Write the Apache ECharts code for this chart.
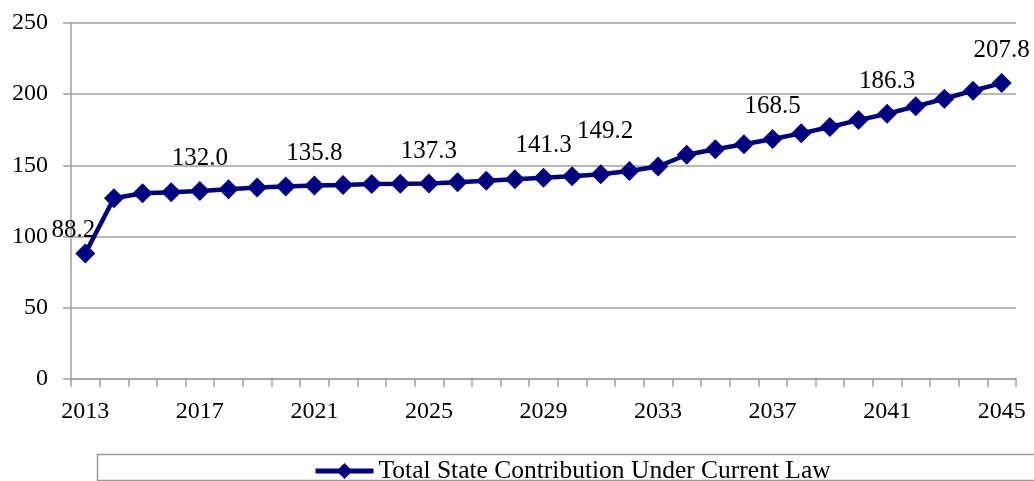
<!DOCTYPE html>
<html>
<head>
<meta charset="utf-8">
<script src="https://cdn.jsdelivr.net/npm/echarts@6/dist/echarts.min.js"></script>
<style>
html,body{margin:0;padding:0;background:#fff;}
#chart{width:1034px;height:481px;}
</style>
</head>
<body>
<div id="chart"></div>
<script>
var years = ['2013','2014','2015','2016','2017','2018','2019','2020','2021','2022','2023','2024','2025','2026','2027','2028','2029','2030','2031','2032','2033','2034','2035','2036','2037','2038','2039','2040','2041','2042','2043','2044','2045'];
var values = [88.2,126.9,130.4,131.1,132.0,133.3,134.5,135.2,135.8,136.3,137.0,137.1,137.3,138.2,139.3,140.2,141.3,142.4,143.8,146.0,149.2,157.5,161.3,164.8,168.5,172.5,177.0,181.8,186.3,191.5,196.8,202.5,207.8];
var labeledYears = ['2013','2017','2021','2025','2029','2033','2037','2041','2045'];
var seriesName = 'Total State Contribution Under Current Law';
var yTicks = [0,50,100,150,200,250];

var FONT = "'Liberation Serif','Times New Roman',serif";
var labelOffsets = {'2013':[-12,10],'2033':[-53,-3]};

var seriesData = values.map(function(v,i){
  var y = years[i];
  var item = {value:v};
  if (labeledYears.indexOf(y) >= 0) {
    item.label = {show:true, position:'top', distance:10, offset: labelOffsets[y] || [0,0],
      formatter: function(p){ return p.value.toFixed(1); },
      fontFamily:FONT, fontSize:25, color:'#000'};
  }
  return item;
});

var chart = echarts.init(document.getElementById('chart'));
chart.setOption({
  animation:false,
  backgroundColor:'#fff',
  grid:{left:71, right:18, top:23, bottom:102, containLabel:false},
  graphic:[{type:'rect', shape:{x:97.5,y:454.5,width:960,height:26}, style:{fill:'none', stroke:'#9a9a9a', lineWidth:1.5}, z:-1}],
  legend:{
    data:[seriesName], top:453, left:308,
    itemWidth:58, itemHeight:20, itemGap:2,
    lineStyle:{width:5},
    textStyle:{fontFamily:FONT, fontSize:25.5, color:'#000'}
  },
  xAxis:{
    type:'category', data:years, boundaryGap:true,
    axisLine:{lineStyle:{color:'#a0a0a0', width:1.5}},
    axisTick:{show:true, interval:0, length:8, lineStyle:{color:'#a0a0a0', width:1.5}},
    axisLabel:{interval:3, margin:21, fontFamily:FONT, fontSize:24, color:'#000'},
    splitLine:{show:false}
  },
  yAxis:{
    type:'value', min:yTicks[0], max:yTicks[yTicks.length-1], interval:50,
    axisLine:{show:true, lineStyle:{color:'#a0a0a0', width:1.5}},
    axisTick:{show:true, length:8, lineStyle:{color:'#a0a0a0', width:1.5}},
    axisLabel:{margin:23, fontFamily:FONT, fontSize:24, color:'#000'},
    splitLine:{show:true, lineStyle:{color:'#a0a0a0', width:1.5}}
  },
  series:[{
    name:seriesName, type:'line', data:seriesData,
    symbol:'diamond', symbolSize:20, showAllSymbol:true,
    lineStyle:{color:'#000080', width:4.5},
    itemStyle:{color:'#000080'},
    label:{show:false}
  }]
});
</script>
</body>
</html>
